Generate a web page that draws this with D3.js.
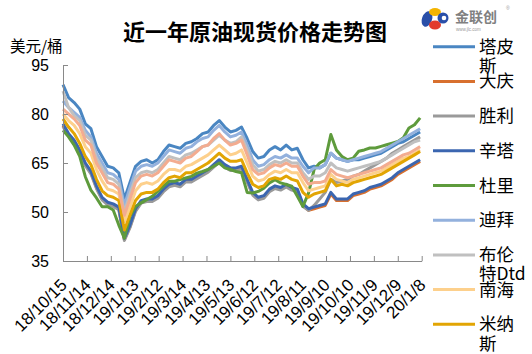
<!DOCTYPE html>
<html>
<head>
<meta charset="utf-8">
<script src="https://cdn.jsdelivr.net/npm/d3@7/dist/d3.min.js"></script>
<style>
  body { margin: 0; background: #fff; }
  svg text { font-family: "Liberation Sans", Arial, sans-serif; }
  svg text.cjk { font-family: "Noto Sans CJK SC", "Noto Sans", sans-serif; }
</style>
</head>
<body>
<script>
// category labels on the x axis (every 30 days)
const tickLabels = ['18/10/15', '18/11/14', '18/12/14', '19/1/13', '19/2/12', '19/3/14',
  '19/4/13', '19/5/13', '19/6/12', '19/7/12', '19/8/11', '19/9/10', '19/10/10',
  '19/11/9', '19/12/9', '20/1/8'];
const yTicks = [35, 50, 65, 80, 95];
const firstDay = '18/10/15';
const stepDays = 7;   // one value per week

// values, USD/bbl
const tapis = [89, 85, 83.5, 81.5, 77, 75.5, 70, 67, 64, 63.5,
  62, 54, 59, 64, 65.5, 66, 65, 66, 68.5, 70.5,
  70, 69.5, 71, 71.5, 72.5, 74, 74.5, 76.5, 78, 76,
  74.5, 75, 76, 72.5, 68.5, 66.5, 67, 69, 70, 69,
  70.5, 69, 69.5, 66, 63.5, 64, 63.5, 64.5, 68, 66.5,
  66, 65.5, 66, 66, 66.5, 67, 67.5, 68, 69, 70,
  71, 71.5, 72.5, 73.5, 74.5];
const daqing = [76.5, 73.5, 71.5, 68.5, 64.5, 62, 57.5, 54, 52.5, 52,
  51, 41.5, 45.5, 50.5, 53, 53.5, 53.5, 54.5, 56.5, 58,
  58.5, 58, 59.5, 59.5, 60.5, 61.5, 62.5, 64, 65.5, 64,
  63, 63, 63.5, 59.5, 55.5, 54, 54.5, 56.5, 57.5, 57,
  58, 57, 56.5, 52, 50.5, 51, 51.5, 52, 55.5, 53.5,
  53.5, 53.5, 55, 55.5, 56, 57, 57.5, 58, 59, 60,
  61.5, 62.5, 63.5, 64.5, 65.5];
const shengli = [76.2, 73.2, 71.2, 68.2, 64.2, 61.7, 57.2, 53.7, 52.2, 51.7,
  50.7, 41.3, 45.2, 50.2, 52.7, 53.2, 53.2, 54.2, 56.2, 57.7,
  58.2, 57.7, 59.2, 59.2, 60.2, 61.2, 62.2, 63.7, 65.2, 63.7,
  62.7, 62.7, 63.2, 59.2, 55.2, 53.7, 54.2, 56.2, 57.2, 56.7,
  57.7, 56.7, 56.2, 51.7, 50.5, 52, 54, 56, 60, 59,
  59.5, 60, 61, 61.5, 62.5, 63.5, 64.5, 65.5, 66.5, 68,
  69, 70, 71, 72, 73];
const sinta = [77, 74, 72, 69, 65, 62.5, 58, 54.5, 53, 52.5,
  51.5, 42, 46, 51, 53.5, 54, 54, 55, 57, 58.5,
  59, 58.5, 60, 60, 61, 62, 63, 64.5, 66, 64.5,
  63.5, 63.5, 64, 60, 56, 54.5, 55, 57, 58, 57.5,
  58.5, 57.5, 57, 52.5, 51, 51.5, 52, 52.5, 56, 54,
  54, 54, 55.5, 56, 56.5, 57.5, 58, 58.5, 59.5, 60.5,
  62, 63, 64, 65, 66];
const duri = [75, 73, 70.5, 67, 60.8, 56.7, 54.3, 51.6, 51.6, 50.6,
  46, 42, 48.7, 51.7, 52.8, 53.8, 54.8, 56.3, 57.9, 59.4,
  59.4, 59.9, 60.4, 60.9, 61.9, 62.4, 63, 64, 65, 63.5,
  63, 62.4, 62, 56, 55.8, 56.3, 57.3, 58.9, 59.9, 58.9,
  58.4, 57.9, 54.8, 51.7, 55.8, 63, 65, 66, 73.7, 69,
  67, 66, 66.5, 68.6, 69, 69.6, 69.6, 70.1, 70.6, 71.1,
  71.6, 72.7, 75.7, 76.7, 78.8];
const dubai = [84, 82, 80.5, 79, 75, 73, 68, 65, 62, 61.5,
  60, 52, 57.5, 62.5, 64, 64.5, 64, 65, 67, 69,
  68.5, 68, 69.5, 70, 71.5, 72.5, 73, 75, 76.5, 74.5,
  73, 73.5, 74.5, 70.5, 66, 64, 64.5, 66, 67, 66.5,
  67.5, 66.5, 66.5, 64, 62, 63.5, 63.5, 64.5, 68, 66.5,
  66, 65.5, 66, 66.5, 67, 67.5, 68, 68.5, 69.5, 70.5,
  71.5, 72.5, 73.5, 74.5, 75.5];
const brent = [87, 82, 79.5, 78, 73.5, 72, 66.5, 63.5, 60.5, 60,
  58.5, 50, 55.5, 60.5, 62, 62.5, 62, 63, 65, 67,
  66.5, 66, 67.5, 68, 69, 70, 70.5, 72, 73.5, 72,
  71, 71.5, 73, 69, 64.5, 62.5, 63, 64.5, 65.5, 65,
  66, 65, 65, 62, 60, 61, 61, 62, 65, 63.5,
  63, 62.5, 63, 63.5, 64, 64.5, 65, 65.5, 66.5, 67.5,
  68.5, 69.5, 70.5, 71.5, 72];
const nanhai = [80, 78, 76.5, 74, 70, 68, 63, 59.5, 57, 56.5,
  55.5, 47, 51.5, 56.5, 58.5, 59, 58.5, 59.5, 61.5, 63,
  63, 62.5, 64, 64.5, 65.5, 66.5, 67.5, 69, 70.5, 69,
  67.5, 68, 69, 65, 61, 59.5, 60, 61.5, 62.5, 62,
  63, 62, 62, 59, 56.5, 57, 57.5, 58, 61.5, 60,
  59.5, 59, 60, 60.5, 61, 61.5, 62, 62.5, 63.5, 64.5,
  65.5, 66.5, 67, 68, 69];
const minas = [78.5, 76, 74, 71, 67, 64.5, 60, 56.5, 55, 54.5,
  53.5, 44.5, 49, 53.5, 55.5, 56, 56, 57, 59, 60.5,
  61, 60.5, 62, 62, 63, 64, 65, 66.5, 68, 66.5,
  65.5, 65.5, 66, 62, 58.5, 57.5, 58, 60, 60.5, 60,
  61, 60, 59.5, 56, 54.5, 55.5, 56, 56.5, 60, 58,
  58.5, 58, 59, 59.5, 60, 60.5, 61, 61.5, 62.5, 63.5,
  64.5, 65.5, 66.5, 67.5, 68.5];
// tenth series, its legend entry falls below the picture
const oman = [81.5, 80, 78.5, 76.5, 72, 70.5, 65, 62, 59, 58.5,
  57, 49, 54, 59, 61, 61.5, 61, 62, 64, 66,
  65.5, 65, 66.5, 67, 68.5, 70, 70.5, 72.5, 74, 72,
  70.5, 71, 72, 67.5, 63, 61.5, 62, 63.5, 64.5, 64,
  65, 64, 64, 61, 58.5, 59, 59, 59.5, 63, 61.5,
  61, 60.5, 61, 61.5, 62, 62.5, 63, 63.5, 64.5, 65.5,
  66.5, 67.5, 68, 69, 70];

const series = [
  { name: '塔皮斯', color: '#4a86c2', values: tapis },
  { name: '大庆', color: '#d8702e', values: daqing },
  { name: '胜利', color: '#9a9a9a', values: shengli },
  { name: '辛塔', color: '#3b66b0', values: sinta },
  { name: '杜里', color: '#5e9b3c', values: duri },
  { name: '迪拜', color: '#93b1dd', values: dubai },
  { name: '布伦特Dtd', color: '#c0c0c0', values: brent },
  { name: '南海', color: '#fdd08c', values: nanhai },
  { name: '米纳斯', color: '#e2a503', values: minas },
  { name: '', color: '#f3ac90', values: oman }
];

const W = 532, H = 354;
const plot = { left: 63, right: 421.7, top: 65, bottom: 261 };
const parseDay = d3.timeParse('%y/%m/%d');
const start = parseDay(firstDay);
const tickDates = tickLabels.map(parseDay);

const x = d3.scaleTime()
  .domain([tickDates[0], tickDates[tickDates.length - 1]])
  .range([plot.left, plot.right]);
const y = d3.scaleLinear().domain([35, 95]).range([plot.bottom, plot.top]);

const svg = d3.select('body').append('svg')
  .attr('width', W).attr('height', H)
  .attr('viewBox', `0 0 ${W} ${H}`);

// title and unit
svg.append('text').attr('class', 'cjk')
  .attr('x', 255).attr('y', 40)
  .attr('text-anchor', 'middle')
  .style('font-size', '22px').style('font-weight', 'bold')
  .text('近一年原油现货价格走势图');

svg.append('text').attr('class', 'cjk')
  .attr('x', 10).attr('y', 52)
  .style('font-size', '15.5px')
  .text('美元/桶');

// lines
const line = d3.line()
  .x((v, i) => x(d3.timeDay.offset(start, i * stepDays)))
  .y(v => y(v));

svg.append('g').selectAll('path')
  .data(series)
  .join('path')
  .attr('d', s => line(s.values))
  .attr('fill', 'none')
  .attr('stroke', s => s.color)
  .attr('stroke-width', 3)
  .attr('stroke-linejoin', 'round');

// axes
const xAxis = d3.axisBottom(x).tickValues(tickDates).tickSizeInner(-5).tickSizeOuter(0).tickFormat('');
const yAxis = d3.axisLeft(y).tickValues(yTicks).tickSizeInner(-5).tickSizeOuter(0).tickFormat('');

svg.append('g')
  .attr('transform', 'translate(0,' + plot.bottom + ')')
  .call(xAxis)
  .call(g => g.selectAll('path, line').attr('stroke', '#898989'));

svg.append('g')
  .attr('transform', 'translate(' + plot.left + ',0)')
  .call(yAxis)
  .call(g => g.selectAll('path, line').attr('stroke', '#898989'));

svg.append('g').selectAll('text')
  .data(yTicks)
  .join('text')
  .attr('x', 49).attr('y', v => y(v) + 5.5)
  .attr('text-anchor', 'end')
  .style('font-size', '16px')
  .text(v => v);

svg.append('g').selectAll('text')
  .data(tickLabels)
  .join('text')
  .attr('transform', (t, i) => `translate(${x(tickDates[i]) + 5},${plot.bottom + 25}) rotate(-45)`)
  .attr('text-anchor', 'end')
  .style('font-size', '17px')
  .text(t => t);

// legend
const legend = svg.append('g').selectAll('g')
  .data(series.filter(s => s.name))
  .join('g')
  .attr('transform', (s, i) => `translate(433,${46.7 + i * 34.7})`);

legend.append('line')
  .attr('x1', 0).attr('x2', 42)
  .attr('stroke', s => s.color).attr('stroke-width', 3);

legend.append('text').attr('class', 'cjk')
  .style('font-size', '17.5px')
  .selectAll('tspan')
  .data(s => s.name.length > 2 ? [s.name.slice(0, 2), s.name.slice(2)] : [s.name])
  .join('tspan')
  .attr('x', 46)
  .attr('y', (t, i) => 6 + i * 19.5)
  .text(t => t);

// logo
const logo = svg.append('g').attr('transform', 'translate(420,4)');
logo.append('ellipse').attr('cx', 7).attr('cy', 15).attr('rx', 5).attr('ry', 8)
  .attr('transform', 'rotate(20,7,15)').attr('fill', '#2a4fa8');
logo.append('ellipse').attr('cx', 15).attr('cy', 8).attr('rx', 6).attr('ry', 4).attr('fill', '#f4b400');
logo.append('ellipse').attr('cx', 15).attr('cy', 21).attr('rx', 6).attr('ry', 4.5).attr('fill', '#e23a2e');
logo.append('circle').attr('cx', 23).attr('cy', 14).attr('r', 5.5).attr('fill', '#2a4fa8');
logo.append('circle').attr('cx', 24).attr('cy', 14).attr('r', 2.3).attr('fill', '#fff');
logo.append('text').attr('class', 'cjk')
  .attr('x', 35).attr('y', 18)
  .style('font-size', '14px').style('font-weight', 'bold').attr('fill', '#808080')
  .text('金联创');
logo.append('text')
  .attr('x', 36).attr('y', 27)
  .style('font-size', '4.5px').attr('fill', '#999')
  .text('www.jlc.com');
logo.append('text')
  .attr('x', 86).attr('y', 6)
  .style('font-size', '5px').attr('fill', '#999')
  .text('®');
</script>
</body>
</html>
